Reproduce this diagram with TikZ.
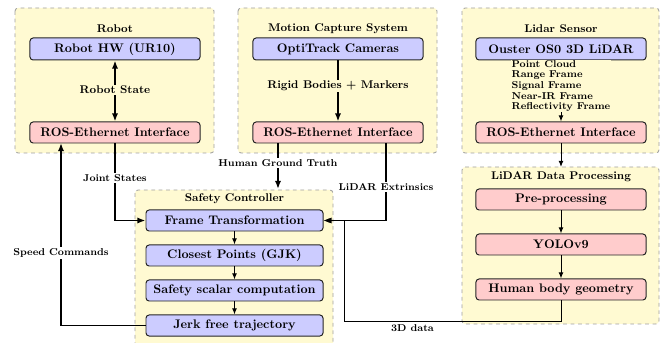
\documentclass[tikz,border=0pt]{standalone}
\usetikzlibrary{arrows.meta}
\definecolor{grpfill}{RGB}{255,250,210}
\begin{document}
\begin{tikzpicture}[x=0.8045pt,y=-0.8045pt,
  font=\bfseries,
  grp/.style={draw=gray!75, dashed, fill=grpfill, line width=0.7pt, rounded corners=2.5pt},
  grptitle/.style={font=\small\bfseries, inner sep=1pt},
  bluebox/.style={draw=black!85, fill=blue!20, rounded corners=2.5pt, line width=0.8pt,
                  minimum width=136.8pt, minimum height=16.9pt, inner sep=1pt},
  redbox/.style={bluebox, fill=red!20},
  scbox/.style={bluebox, minimum width=142.4pt},
  bigarr/.style={line width=1.5pt, -{Latex[length=6.5pt,width=5pt]}},
  bigboth/.style={line width=1.5pt, {Latex[length=6.5pt,width=5pt]}-{Latex[length=6.5pt,width=5pt]}},
  thinarr/.style={line width=0.8pt, -{Latex[length=5pt,width=4pt]}},
  lbl/.style={font=\footnotesize\bfseries, fill=white, inner sep=1pt},
  inlbl/.style={font=\small\bfseries, fill=grpfill, inner sep=1pt}
]
\useasboundingbox (0,0) rectangle (661,343);
\clip (0,0) rectangle (661,343);

% groups
\path[grp] (15,8) rectangle (214,153);
\path[grp] (238,8) rectangle (437,153);
\path[grp] (462,8) rectangle (659,153);
\path[grp] (462,167) rectangle (659,324);
\path[grp] (135,190) rectangle (333,360);

\node[grptitle] (trobot) at (115,29) {Robot};
\node[grptitle] (tmocap) at (338,29) {Motion Capture System};
\node[grptitle] (tlidar) at (561,29) {Lidar Sensor};
\node[grptitle] (tdp) at (561,177) {LiDAR Data Processing};
\node[grptitle] (tsc) at (234.5,199) {Safety Controller};

% nodes
\node[bluebox, minimum height=17.7pt] (rhw) at (115,49) {Robot HW (UR10)};
\node[redbox] (ros1) at (115,132.5) {ROS-Ethernet Interface};
\node[bluebox, minimum height=17.7pt] (opti) at (338,49) {OptiTrack Cameras};
\node[redbox] (ros2) at (338,132.5) {ROS-Ethernet Interface};
\node[bluebox, minimum height=17.7pt] (ouster) at (561,49) {Ouster OS0 3D LiDAR};
\node[redbox] (ros3) at (561,132.5) {ROS-Ethernet Interface};

\node[redbox] (pre) at (561,199.5) {Pre-processing};
\node[redbox] (yolo) at (561,244.5) {YOLOv9};
\node[redbox] (human) at (561,289.5) {Human body geometry};

\node[scbox] (frame) at (234.5,220.5) {Frame Transformation};
\node[scbox] (closest) at (234.5,255.5) {Closest Points (GJK)};
\node[scbox] (scalar) at (234.5,290.5) {Safety scalar computation};
\node[scbox] (jerk) at (234.5,325.5) {Jerk free trajectory};

% helper coordinates
\coordinate (dptop) at (561,167);
\coordinate (gttop) at (278,143);
\coordinate (scin) at (278,189);
\coordinate (extx) at (386,143);
\coordinate (spdx) at (61,143);
\coordinate (d1) at (561,321);
\coordinate (d2) at (344,321);
\coordinate (d3) at (344,220.5);

% connectors
\draw[bigboth] (rhw) -- (ros1);
\draw[bigarr] (opti) -- (ros2);
\draw[thinarr] (ouster) -- (ros3);
\draw[thinarr] (ros3) -- (dptop);
\draw[thinarr] (pre) -- (yolo);
\draw[thinarr] (yolo) -- (human);
\draw[thinarr] (frame) -- (closest);
\draw[thinarr] (closest) -- (scalar);
\draw[thinarr] (scalar) -- (jerk);

\draw[bigarr] (gttop) -- (scin);
\draw[bigarr] (extx) |- (frame.east);
\draw[bigarr] (ros1) |- (frame.west);
\draw[bigarr] (jerk.west) -| (spdx);
\draw[thinarr] (human) -- (d1) -- (d2) -- (d3) -- (frame.east);

% labels
\node[inlbl] (lrs) at (115,90) {Robot State};
\node[inlbl] (lrb) at (338,86) {Rigid Bodies + Markers};
\node[fill=grpfill, inner sep=0.5pt, align=left, font={\fontsize{8}{8.5}\selectfont\bfseries}] (lpc) at (561,86)
  {Point Cloud\\Range Frame\\Signal Frame\\Near-IR Frame\\Reflectivity Frame};
\node[lbl] (ljs) at (115,178) {Joint States};
\node[lbl] (lsc) at (61,253) {Speed Commands};
\node[lbl] (lgt) at (278,163) {Human Ground Truth};
\node[lbl] (lex) at (386,187) {LiDAR Extrinsics};
\node[lbl, fill=none] (l3d) at (412.5,328) {3D data};
\end{tikzpicture}
\end{document}
